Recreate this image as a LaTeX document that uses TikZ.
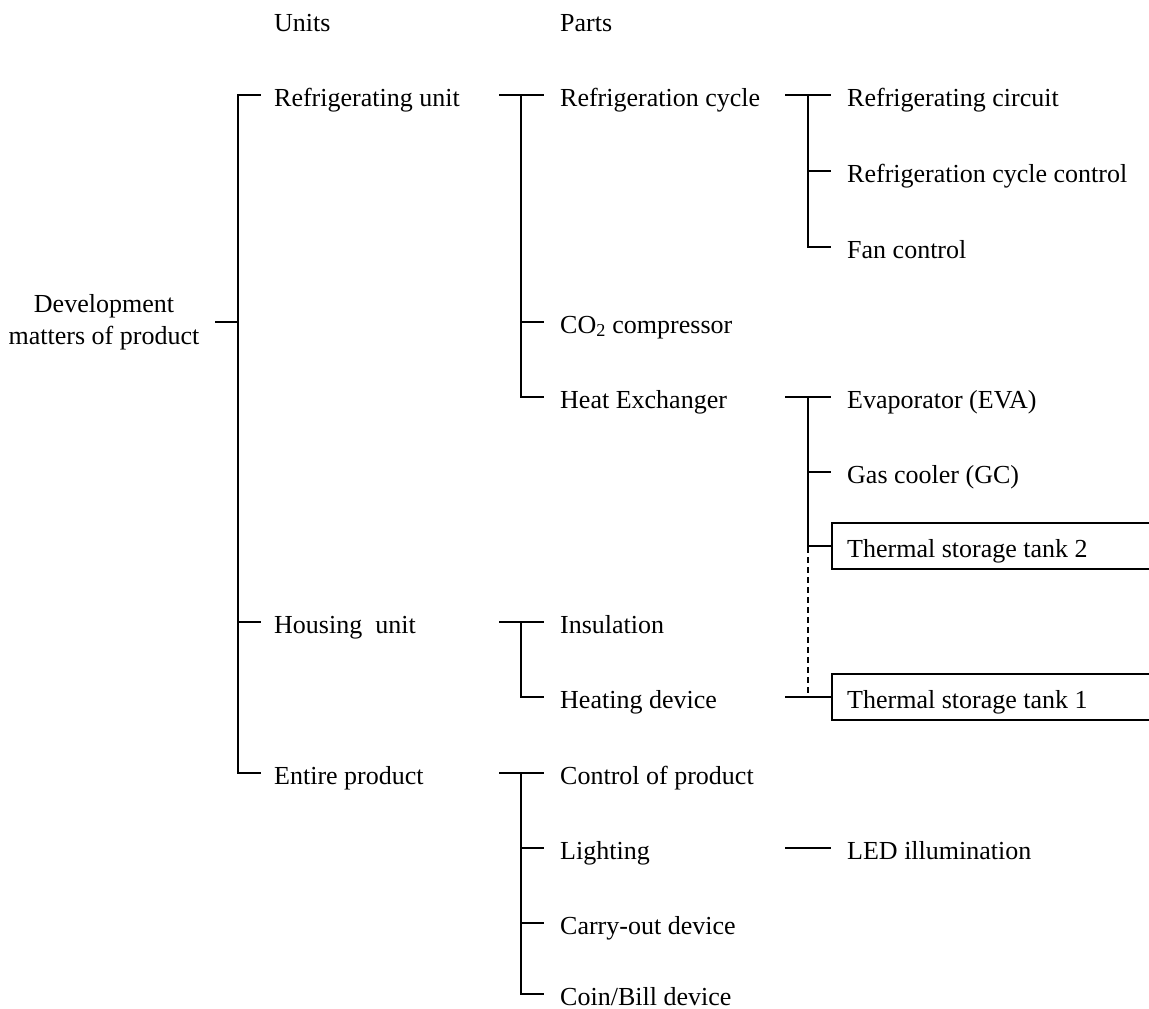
\documentclass[tikz,border=0pt]{standalone}
\usepackage{fontspec}
\setmainfont{Liberation Serif}
\begin{document}
\begin{tikzpicture}[x=1pt,y=-1pt,
  lbl/.style={anchor=west,inner sep=0pt,text height=22pt,text depth=0pt,font=\fontsize{26}{32}\selectfont},
  conn/.style={line width=1.3pt,line cap=rect},
  dconn/.style={line width=1.2pt,dash pattern=on 6pt off 4pt}]
\useasboundingbox (0,0) rectangle (1149,1009);

% headers
\node[lbl] (units) at (274,20) {Units};
\node[lbl] (parts) at (560,20) {Parts};

% root
\node[inner sep=0pt,align=center,font=\fontsize{26}{32}\selectfont] (root) at (104,322) {Development\\matters of product};

% level 1
\node[lbl] (ru) at (274,95)  {Refrigerating unit};
\node[lbl] (hu) at (274,622) {Housing\ \ unit};
\node[lbl] (ep) at (274,773) {Entire product};

% level 2
\node[lbl] (rc)  at (560,95)  {Refrigeration cycle};
\node[lbl] (co2) at (560,322) {CO\textsubscript{2} compressor};
\node[lbl] (hx)  at (560,397) {Heat Exchanger};
\node[lbl] (ins) at (560,622) {Insulation};
\node[lbl] (hd)  at (560,697) {Heating device};
\node[lbl] (cp)  at (560,773) {Control of product};
\node[lbl] (li)  at (560,848) {Lighting};
\node[lbl] (cod) at (560,923) {Carry-out device};
\node[lbl] (cb)  at (560,994) {Coin/Bill device};

% level 3
\node[lbl] (rcc)   at (847,95)  {Refrigerating circuit};
\node[lbl] (rcctl) at (847,171) {Refrigeration cycle control};
\node[lbl] (fan)   at (847,247) {Fan control};
\node[lbl] (eva)   at (847,397) {Evaporator (EVA)};
\node[lbl] (gc)    at (847,472) {Gas cooler (GC)};
\node[lbl] (t2)    at (847,546) {Thermal storage tank 2};
\node[lbl] (t1)    at (847,697) {Thermal storage tank 1};
\node[lbl] (led)   at (847,848) {LED illumination};

% guide coordinates
\coordinate (v1) at (238,0);
\coordinate (h2) at (500,0);
\coordinate (v2) at (521,0);
\coordinate (h3) at (786,0);
\coordinate (v3) at (808,0);

% level 1 bracket
\draw[conn] ([xshift=16pt]root.east) -- (v1|-root.east);
\draw[conn] (v1|-ru.west) -- (v1|-ep.west);
\foreach \n in {ru,hu,ep} \draw[conn] (v1|-\n.west) -- ([xshift=-14pt]\n.west);

% level 2 brackets
\draw[conn] (h2|-ru.west) -- (v2|-ru.west) -- (v2|-hx.west);
\foreach \n in {rc,co2,hx} \draw[conn] (v2|-\n.west) -- ([xshift=-17pt]\n.west);
\draw[conn] (h2|-hu.west) -- (v2|-hu.west) -- (v2|-hd.west);
\foreach \n in {ins,hd} \draw[conn] (v2|-\n.west) -- ([xshift=-17pt]\n.west);
\draw[conn] (h2|-ep.west) -- (v2|-ep.west) -- (v2|-cb.west);
\foreach \n in {cp,li,cod,cb} \draw[conn] (v2|-\n.west) -- ([xshift=-17pt]\n.west);

% level 3 brackets
\draw[conn] (h3|-rc.west) -- (v3|-rc.west) -- (v3|-fan.west);
\foreach \n in {rcc,rcctl,fan} \draw[conn] (v3|-\n.west) -- ([xshift=-17pt]\n.west);
\draw[conn] (h3|-hx.west) -- (v3|-hx.west) -- (v3|-t2.west);
\foreach \n in {eva,gc} \draw[conn] (v3|-\n.west) -- ([xshift=-17pt]\n.west);
\draw[conn] (v3|-t2.west) -- ([xshift=-15pt]t2.west);
\draw[dconn] ([yshift=-1pt]v3|-t2.west) -- (v3|-t1.west);
\draw[conn] (h3|-hd.west) -- ([xshift=-15pt]t1.west);
\draw[conn] (h3|-li.west) -- ([xshift=-17pt]led.west);

% boxes (open on the right edge)
\draw[conn] ([xshift=-15pt,yshift=23pt]t2.west) -- ++(0,46) -- ++(330,0)
            ([xshift=-15pt,yshift=23pt]t2.west) -- ++(330,0);
\draw[conn] ([xshift=-15pt,yshift=23pt]t1.west) -- ++(0,46) -- ++(330,0)
            ([xshift=-15pt,yshift=23pt]t1.west) -- ++(330,0);
\end{tikzpicture}
\end{document}
